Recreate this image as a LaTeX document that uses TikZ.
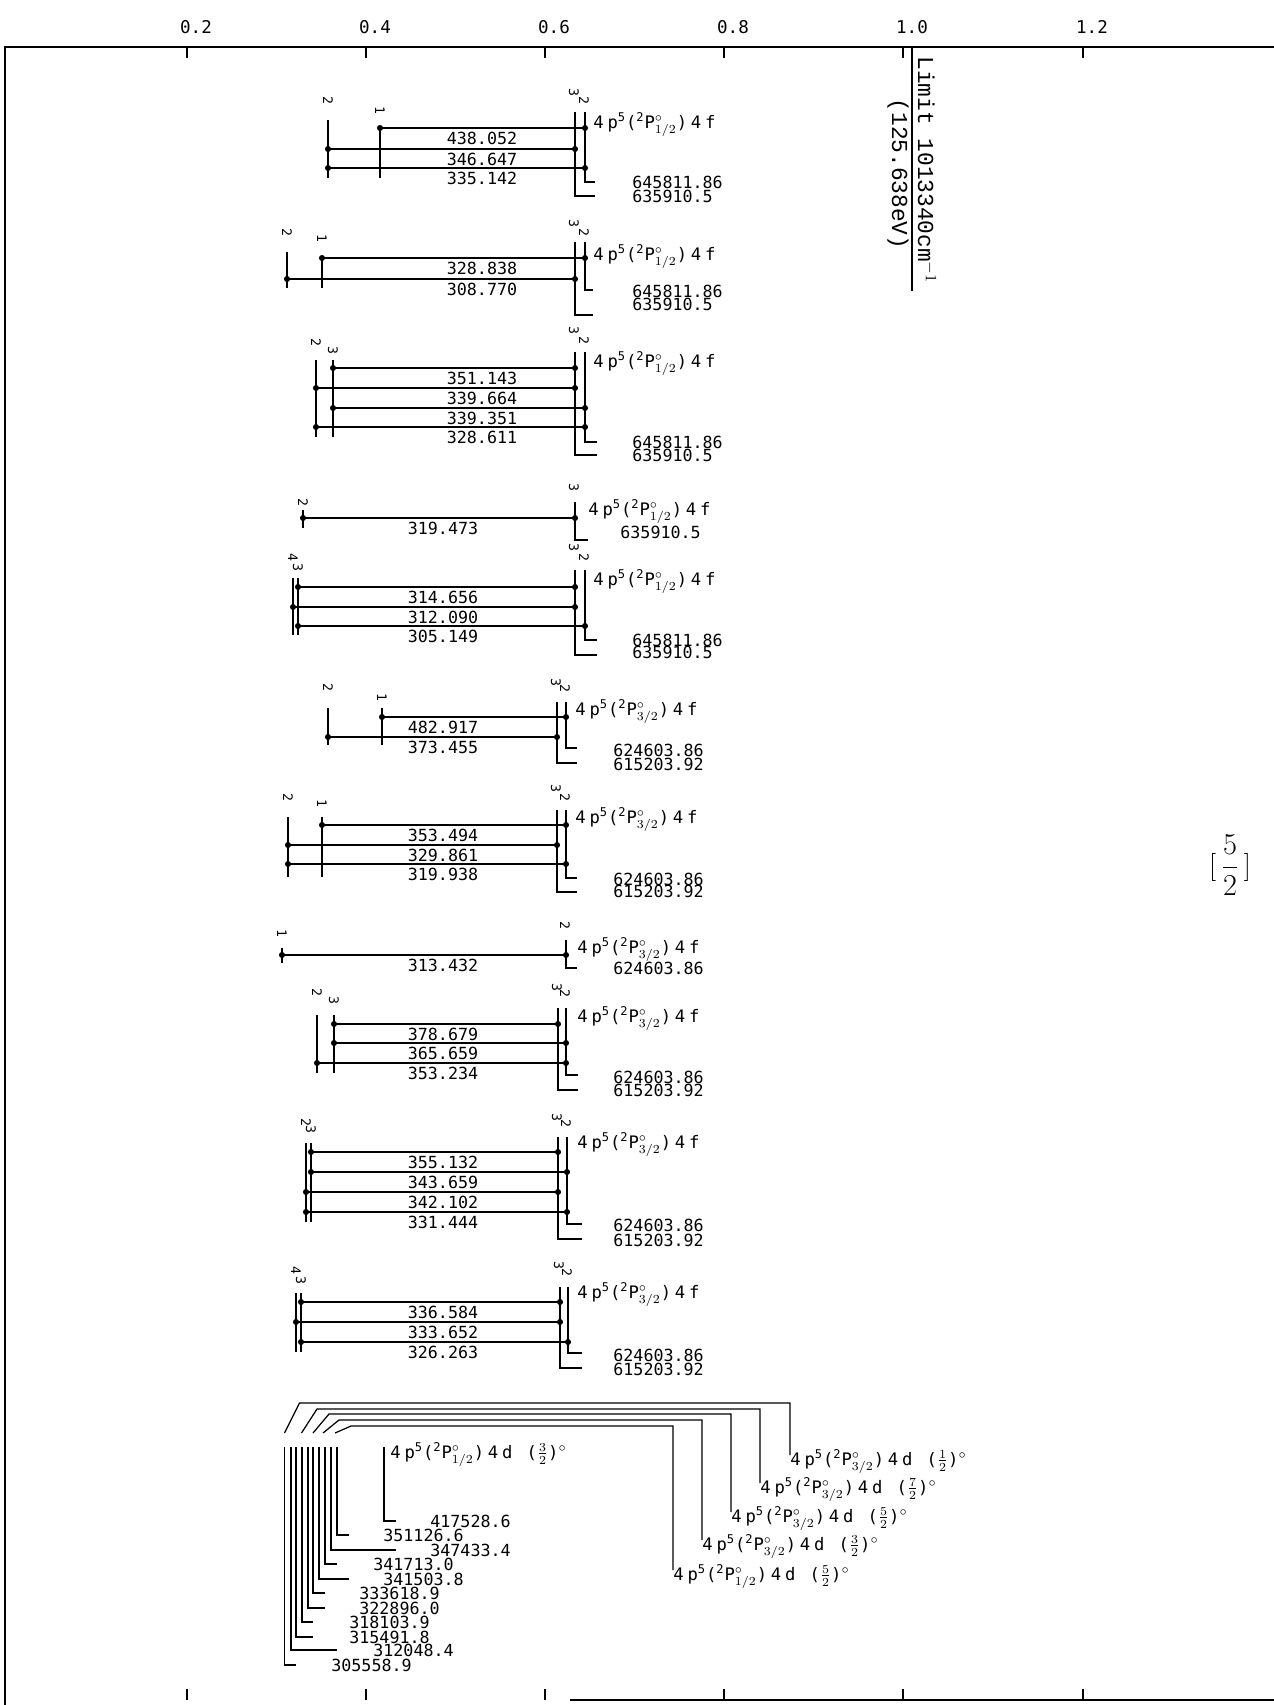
\documentclass[tikz,border=0pt]{standalone}
\usepackage{fontspec}
\setmonofont{DejaVu Sans Mono}
\newfontfamily\cfgfont[LetterSpace=22]{DejaVu Sans Mono}
\newfontfamily\limfont{Liberation Mono}
\usetikzlibrary{arrows.meta}
\newcommand{\fsp}[2]{4p\textsuperscript{5}(\textsuperscript{2}P$^{\circ}_{#1}$)#2}

\begin{document}
\begin{tikzpicture}[x=0.02cm,y=-0.02cm,
    frm/.style={line width=1pt},
    lvl/.style={line width=0.7pt},
    tr/.style={line width=0.9pt,{Circle[length=3.4pt]}-{Circle[length=3.4pt]},shorten <=-1.7pt,shorten >=-1.7pt},
    wl/.style={font=\ttfamily\fontsize{9.5}{10}\selectfont,inner sep=0pt},
    en/.style={wl,anchor=west},
    cfg/.style={font=\cfgfont\fontsize{9.8}{10}\selectfont,anchor=base west,inner sep=0pt},
    jv/.style={font=\ttfamily\fontsize{7.5}{7.5}\selectfont,rotate=-90,inner sep=0pt},
    lim/.style={rotate=-90,font=\limfont\fontsize{13}{13}\selectfont,inner sep=0pt}]
  \useasboundingbox (0,0) rectangle (1274,1705);

  \draw[frm] (5,1705) -- (5,47) -- (1274,47);
  \draw[frm] (570,1700) -- (1274,1700);
  \foreach \x/\t in {187/0.2,366/0.4,545/0.6,724/0.8,903/1.0,1083/1.2}{
    \draw[lvl] (\x,47) -- (\x,58);
    \draw[lvl] (\x,1700) -- (\x,1689);
    \node[wl,font=\ttfamily\fontsize{10}{10}\selectfont] (tk\x) at (\x+9,27) {\t};
  }

  \coordinate (lim0) at (912,47);
  \coordinate (lim1) at (912,291);
  \draw[lvl] (lim0) -- (lim1);
  \node[lim] (limit) at (927,170) {Limit 1013340cm$^{-1}$};
  \node[lim] (limev) at (898,174) {(125.638eV)};

  \foreach \x/\ya/\yb/\ly/\j in {328/120/178/100/2, 380/127/178/110/1,
      287/252/288/232/2, 322/257/288/238/1,
      316/360/437/342/2, 333/360/437/350/3,
      303/510/528/502/2,
      293/578/635/557/4, 298/578/635/567/3,
      328/708/745/687/2, 382/708/745/697/1,
      288/817/877/797/2, 322/817/877/803/1,
      282/948/963/933/1,
      317/1015/1073/992/2, 334/1015/1073/1000/3,
      306/1143/1222/1122/2, 311/1143/1222/1129/3,
      296/1293/1352/1270/4, 301/1293/1352/1280/3}{
    \draw[lvl] (\x,\ya) -- (\x,\yb);
    \node[jv] (lo\ly) at (\x,\ly) {\j};
  }

  \foreach \x/\ya/\yb/\xe/\ly/\j in {575/112/196/595/92/3, 585/112/182/595/100/2,
      575/242/315/593/223/3, 585/242/290/593/232/2,
      575/352/455/597/330/3, 585/352/442/597/340/2,
      575/502/540/588/487/3,
      575/570/655/597/547/3, 585/570/640/597/557/2,
      557/702/763/577/682/3, 566/702/748/577/688/2,
      557/810/892/577/788/3, 566/810/878/577/797/2,
      566/940/968/577/925/2,
      558/1008/1090/578/987/3, 566/1008/1075/578/993/2,
      558/1137/1239/582/1117/3, 567/1137/1224/582/1123/2,
      560/1287/1368/582/1265/3, 568/1287/1353/582/1272/2}{
    \draw[lvl] (\x,\ya) -- (\x,\yb) -- (\xe,\yb);
    \node[jv] (up\ly) at (\x-1,\ly) {\j};
  }

  \foreach \a/\b/\y/\c/\w in {380/585/128/482/438.052, 328/575/149/482/346.647, 328/585/168/482/335.142,
      322/585/258/482/328.838, 287/575/279/482/308.770,
      333/575/368/482/351.143, 316/575/388/482/339.664, 333/585/408/482/339.351, 316/585/427/482/328.611,
      303/575/518/443/319.473,
      298/575/587/443/314.656, 293/575/607/443/312.090, 298/585/626/443/305.149,
      382/566/717/443/482.917, 328/557/737/443/373.455,
      322/566/825/443/353.494, 288/557/845/443/329.861, 288/566/864/443/319.938,
      282/566/955/443/313.432,
      334/558/1024/443/378.679, 334/566/1043/443/365.659, 317/566/1063/443/353.234,
      311/558/1152/443/355.132, 311/567/1172/443/343.659, 306/558/1192/443/342.102, 306/567/1212/443/331.444,
      301/560/1302/443/336.584, 296/560/1322/443/333.652, 301/568/1342/443/326.263}{
    \draw[tr] (\a,\y) -- (\b,\y);
    \node[wl] (w\y) at (\c,\y+10) {\w};
  }

  \foreach \x/\y/\p in {593/123/1, 593/255/1, 593/362/1, 588/510/1, 593/580/1,
      575/710/3, 575/818/3, 577/948/3, 577/1017/3, 577/1143/3, 577/1293/3}{
    \node[cfg] (cf\y) at (\x,\y+5) {\fsp{\p/2}{4f}};
  }

  \foreach \x/\y/\e in {632/182/645811.86, 632/196/635910.5,
      632/291/645811.86, 632/304/635910.5,
      632/442/645811.86, 632/455/635910.5,
      620/532/635910.5,
      632/640/645811.86, 632/652/635910.5,
      613/750/624603.86, 613/764/615203.92,
      613/879/624603.86, 613/891/615203.92,
      613/968/624603.86,
      613/1077/624603.86, 613/1090/615203.92,
      613/1225/624603.86, 613/1240/615203.92,
      613/1355/624603.86, 613/1369/615203.92}{
    \node[en] (en\y) at (\x,\y) {\e};
  }

  \foreach \x/\ya/\yb/\xe/\lx/\e in {284.5/1447/1665/296/331/305558.9, 291/1447/1650/337/373/312048.4,
      296/1447/1637/313/349/315491.8, 302/1447/1622/313/349/318103.9,
      308/1447/1608/325/359/322896.0, 313/1447/1593/325/359/333618.9,
      319/1447/1579/349/383/341503.8, 325/1447/1564/337/373/341713.0,
      331/1447/1550/396/430/347433.4, 337/1447/1535/349/383/351126.6,
      384/1447/1521/396/430/417528.6}{
    \draw[lvl] (\x,\ya) -- (\x,\yb) -- (\xe,\yb);
    \node[en] (lv\yb) at (\lx,\yb) {\e};
  }
  \node[cfg] (cfd) at (390,1458) {\fsp{1/2}{4d}\ ($\frac{3}{2}$)$^{\circ}$};

  \foreach \xs/\xa/\ya/\xr/\yb/\p/\k in {284.5/299.5/1403/790/1455/3/1, 301.5/317/1409/760/1483/3/7,
      313/329/1414/731/1512/3/5, 323/339/1420/702/1540/3/3, 335/351/1426/673/1570/1/5}{
    \draw[lvl] (\xs,1433) -- (\xa,\ya) -- (\xr,\ya) -- (\xr,\yb);
    \node[cfg] (cf\xr) at (\xr,\yb+10) {\fsp{\p/2}{4d}\ ($\frac{\k}{2}$)$^{\circ}$};
  }

  \node (jk) at (1230,865) {\fontsize{16}{16}\selectfont[\,$\displaystyle\frac{5}{2}$\,]};
\end{tikzpicture}
\end{document}
